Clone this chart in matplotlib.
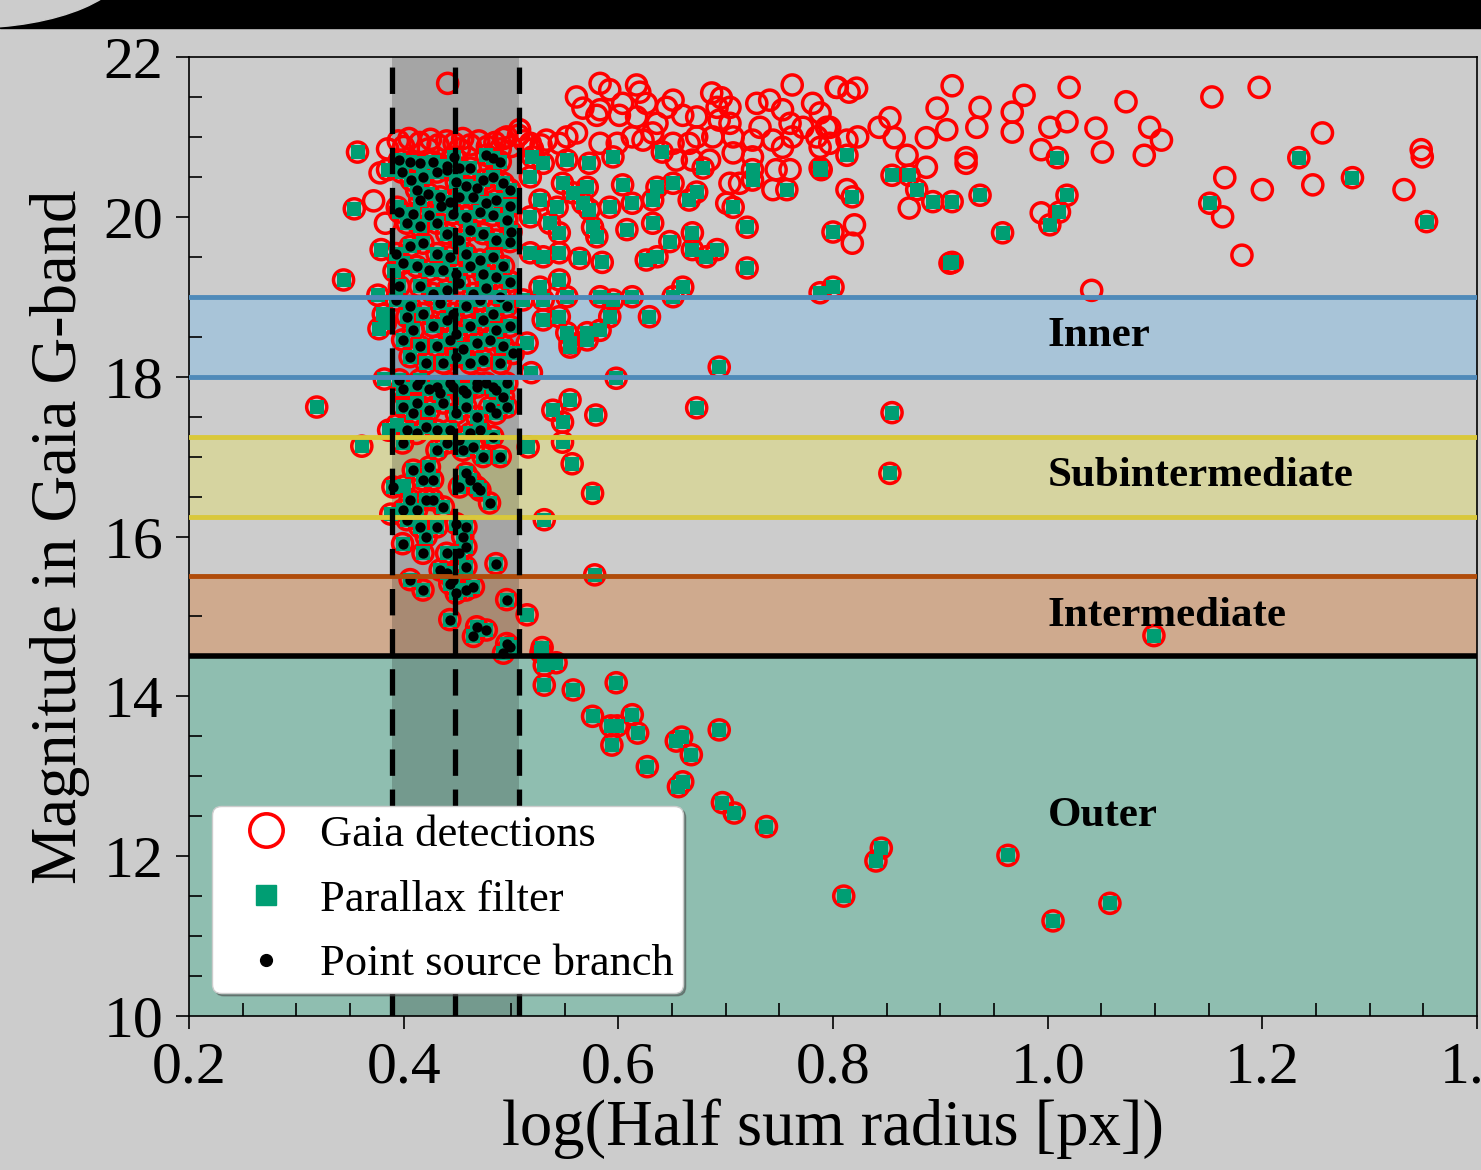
import matplotlib
matplotlib.use("Agg")
import matplotlib.pyplot as plt
from matplotlib.patches import Rectangle, Ellipse
from matplotlib.lines import Line2D
from matplotlib.ticker import MultipleLocator
import numpy as np

plt.rcParams['font.family'] = ['Liberation Serif', 'DejaVu Serif']

# Gaia detections with no parallax cut passed (x = log half sum radius, y = G mag)
gaia_only_x = [0.583, 0.592, 0.617, 0.620, 0.561, 0.567, 0.583, 0.580, 0.604, 0.601,
               0.626, 0.617, 0.645, 0.651, 0.636, 0.660, 0.673, 0.687, 0.696, 0.704,
               0.692, 0.694, 0.704, 0.729, 0.741, 0.753, 0.762, 0.781, 0.788, 0.803,
               0.797, 0.772, 0.760, 0.732, 0.725, 0.744, 0.762, 0.753, 0.785, 0.788,
               0.707, 0.688, 0.673, 0.666, 0.651, 0.654, 0.632, 0.623, 0.613, 0.599,
               0.583, 0.561, 0.552, 0.545, 0.533, 0.518, 0.508, 0.496, 0.669, 0.685,
               0.707, 0.725, 0.747, 0.760, 0.744, 0.713, 0.704, 0.701,
               0.804, 0.822, 0.815, 0.911, 0.978, 1.020, 1.073, 0.937, 0.897, 0.967,
               0.967, 0.934, 0.906, 0.887, 0.857, 0.853, 0.843, 0.823, 0.794, 0.797,
               0.813, 0.869, 0.887, 0.924, 0.924, 0.994, 1.002, 1.018, 1.045, 1.051,
               1.090, 1.095, 0.871, 0.994, 0.813, 0.820, 0.818, 1.041,
               1.153, 1.197, 1.106, 1.256, 1.165, 1.200, 1.247, 1.332, 1.348, 1.349,
               1.163, 1.181,
               0.385, 0.395, 0.405, 0.415, 0.425, 0.432, 0.440, 0.447, 0.455, 0.462,
               0.470, 0.478, 0.485, 0.493, 0.500, 0.507, 0.441, 0.400, 0.423, 0.452,
               0.490, 0.512, 0.520, 0.528, 0.383, 0.378, 0.372]
gaia_only_y = [21.67, 21.59, 21.65, 21.56, 21.50, 21.36, 21.34, 21.27, 21.42, 21.27,
               21.42, 21.25, 21.37, 21.46, 21.17, 21.27, 21.25, 21.55, 21.49, 21.37,
               21.37, 21.21, 21.17, 21.42, 21.46, 21.34, 21.65, 21.42, 21.30, 21.62,
               21.12, 21.12, 21.17, 21.12, 20.96, 20.96, 21.00, 20.87, 21.00, 20.87,
               21.00, 21.00, 21.00, 20.92, 20.92, 20.71, 21.05, 20.96, 21.00, 20.92,
               20.92, 21.05, 21.00, 20.92, 20.96, 20.92, 21.09, 21.00, 20.71, 20.71,
               20.80, 20.75, 20.59, 20.59, 20.34, 20.42, 20.42, 20.17,
               21.62, 21.61, 21.56, 21.64, 21.52, 21.62, 21.44, 21.37, 21.36, 21.31,
               21.06, 21.12, 21.09, 20.99, 20.99, 21.24, 21.12, 21.00, 21.12, 20.92,
               20.96, 20.77, 20.62, 20.74, 20.67, 20.84, 21.12, 21.19, 21.11, 20.81,
               20.77, 21.12, 20.11, 20.05, 20.34, 19.90, 19.67, 19.08,
               21.50, 21.62, 20.96, 21.05, 20.49, 20.34, 20.40, 20.34, 20.84, 20.75,
               20.00, 19.52,
               20.85, 20.95, 20.98, 20.93, 20.97, 20.90, 20.95, 20.92, 20.98, 20.90,
               20.95, 20.88, 20.93, 20.98, 20.88, 21.02, 21.67, 20.88, 20.85, 20.85,
               20.85, 20.95, 20.85, 20.90, 19.92, 20.55, 20.20]

# Detections that pass the parallax filter (outside the point source branch)
parallax_x = [0.595, 0.641, 0.679, 0.725, 0.725, 0.788, 0.757, 0.707, 0.720, 0.800,
              0.673, 0.666, 0.651, 0.636, 0.632, 0.632, 0.648, 0.669, 0.669, 0.692,
              0.682, 0.720, 0.626, 0.636, 0.608, 0.604, 0.580, 0.576, 0.585, 0.613,
              0.592, 0.573, 0.558, 0.548, 0.530, 0.520, 0.552, 0.573, 0.571, 0.567,
              0.543, 0.527, 0.518, 0.518, 0.536, 0.545, 0.518, 0.530, 0.545, 0.564,
              0.545, 0.527, 0.552, 0.530, 0.511, 0.530, 0.545, 0.552, 0.571, 0.583,
              0.555, 0.583, 0.595, 0.613, 0.592, 0.629, 0.651, 0.660, 0.515, 0.788,
              0.800,
              0.813, 0.789, 0.855, 0.871, 0.878, 0.893, 0.911, 0.937, 0.818, 0.958,
              1.009, 1.018, 1.011, 1.002, 0.909, 0.911,
              1.234, 1.284, 1.151, 1.353,
              0.694, 0.673, 0.598, 0.855, 0.853, 0.555, 0.539, 0.548, 0.579, 0.516,
              0.548, 0.557, 0.576, 0.531, 0.578, 0.515, 0.529, 0.519, 0.555, 0.571,
              0.528, 0.531, 0.531, 0.542, 0.558, 0.598, 0.576, 0.593, 0.599, 0.613,
              0.618, 0.594, 0.627, 0.654, 0.659, 0.668, 0.656, 0.660, 0.694, 0.697,
              0.708, 0.738, 0.810, 0.840, 0.845, 0.963, 1.005, 1.058, 1.099,
              0.357, 0.354, 0.379, 0.391, 0.344, 0.383, 0.382, 0.319, 0.361, 0.385,
              0.394, 0.381, 0.377, 0.394, 0.400, 0.376, 0.386, 0.388]
parallax_y = [20.75, 20.81, 20.61, 20.59, 20.46, 20.61, 20.34, 20.12, 19.87, 19.81,
              20.31, 20.21, 20.42, 20.37, 20.21, 19.92, 19.69, 19.80, 19.59, 19.59,
              19.50, 19.36, 19.46, 19.50, 19.84, 20.40, 19.75, 19.87, 19.43, 20.17,
              20.12, 20.09, 20.30, 20.42, 20.67, 20.75, 20.71, 20.67, 20.37, 20.17,
              20.12, 20.21, 20.50, 20.00, 19.92, 19.80, 19.55, 19.50, 19.55, 19.48,
              19.21, 19.12, 19.00, 18.96, 18.96, 18.71, 18.75, 18.55, 18.55, 18.58,
              18.42, 19.00, 18.96, 19.00, 18.75, 18.75, 19.00, 19.12, 18.42, 19.05,
              19.12,
              20.77, 20.59, 20.52, 20.52, 20.34, 20.19, 20.19, 20.27, 20.25, 19.80,
              20.74, 20.27, 20.06, 19.90, 19.42, 19.43,
              20.74, 20.49, 20.17, 19.94,
              18.12, 17.61, 17.98, 17.55, 16.79, 17.71, 17.58, 17.43, 17.52, 17.12,
              17.18, 16.91, 16.54, 16.21, 15.52, 15.02, 14.61, 18.05, 18.37, 18.46,
              14.55, 14.39, 14.14, 14.42, 14.08, 14.17, 13.75, 13.63, 13.63, 13.77,
              13.54, 13.39, 13.12, 13.44, 13.49, 13.27, 12.87, 12.93, 13.58, 12.67,
              12.54, 12.37, 11.50, 11.94, 12.10, 12.01, 11.19, 11.41, 14.76,
              20.81, 20.10, 19.59, 19.32, 19.21, 18.67, 17.97, 17.62, 17.13, 20.59,
              20.12, 18.78, 18.60, 17.40, 16.63, 19.02, 17.33, 16.28]

# Point source branch members (also pass the parallax filter)
branch_x = [0.396, 0.406, 0.415, 0.427, 0.440, 0.452, 0.462, 0.477, 0.483, 0.490, 0.447,
            0.398, 0.407, 0.418, 0.431, 0.440, 0.449, 0.458, 0.468, 0.474, 0.483, 0.493, 0.499,
            0.412, 0.423, 0.415, 0.434, 0.443, 0.452, 0.465, 0.477, 0.486, 0.499,
            0.396, 0.409, 0.424, 0.435, 0.446, 0.458, 0.471, 0.483, 0.496, 0.500,
            0.403, 0.415, 0.431, 0.440, 0.452, 0.462, 0.474, 0.486, 0.499,
            0.393, 0.406, 0.418, 0.431, 0.443, 0.458, 0.471, 0.483, 0.493,
            0.399, 0.412, 0.424, 0.437, 0.449, 0.462, 0.474, 0.486, 0.499,
            0.396, 0.415, 0.427, 0.440, 0.452, 0.465, 0.477, 0.490,
            0.393, 0.406, 0.418, 0.434, 0.446, 0.458, 0.471, 0.483, 0.496,
            0.403, 0.409, 0.427, 0.440, 0.449, 0.462, 0.474, 0.486, 0.499,
            0.399, 0.415, 0.431, 0.443, 0.455, 0.468, 0.480, 0.493, 0.502,
            0.406, 0.421, 0.437, 0.449, 0.462, 0.474, 0.490,
            0.396, 0.415, 0.431, 0.443, 0.455, 0.468, 0.483, 0.496,
            0.399, 0.412, 0.424, 0.434, 0.446, 0.458, 0.468, 0.477, 0.486, 0.493,
            0.399, 0.412, 0.409, 0.424, 0.437, 0.449, 0.458, 0.468, 0.480, 0.486, 0.496,
            0.403, 0.412, 0.421, 0.431, 0.443, 0.452, 0.462, 0.471, 0.483,
            0.399, 0.431, 0.440, 0.455, 0.465, 0.474, 0.490,
            0.409, 0.424, 0.427, 0.418, 0.458, 0.452, 0.468, 0.462, 0.471,
            0.390, 0.406, 0.412, 0.421, 0.427, 0.437, 0.480,
            0.399, 0.403, 0.415, 0.421, 0.431, 0.449, 0.458, 0.455, 0.458,
            0.399, 0.418, 0.440, 0.452, 0.458,
            0.434, 0.440, 0.446, 0.449, 0.458, 0.465, 0.418, 0.406, 0.443,
            0.443, 0.468, 0.477, 0.465,
            0.496, 0.496, 0.499, 0.493, 0.486]
branch_y = [20.71, 20.69, 20.67, 20.69, 20.63, 20.61, 20.61, 20.77, 20.73, 20.69, 20.75,
            20.56, 20.46, 20.50, 20.56, 20.59, 20.44, 20.38, 20.36, 20.46, 20.50, 20.42, 20.34,
            20.34, 20.29, 20.21, 20.25, 20.19, 20.25, 20.25, 20.17, 20.21, 20.13,
            20.06, 20.04, 20.02, 20.13, 20.04, 20.00, 20.06, 20.02, 19.96, 19.81,
            19.92, 19.88, 19.92, 19.79, 19.71, 19.84, 19.79, 19.71, 19.69,
            19.54, 19.63, 19.67, 19.54, 19.50, 19.54, 19.46, 19.50, 19.38,
            19.42, 19.38, 19.33, 19.33, 19.29, 19.38, 19.29, 19.25, 19.19,
            19.13, 19.13, 19.04, 19.08, 19.17, 19.04, 19.11, 19.00,
            18.96, 18.88, 18.79, 18.92, 18.79, 18.88, 18.96, 18.79, 18.88,
            18.75, 18.58, 18.63, 18.71, 18.54, 18.63, 18.71, 18.58, 18.63,
            18.46, 18.38, 18.38, 18.46, 18.35, 18.42, 18.46, 18.38, 18.29,
            18.25, 18.17, 18.17, 18.25, 18.17, 18.21, 18.17,
            17.96, 17.96, 17.87, 17.92, 17.83, 17.92, 17.87, 17.92,
            17.85, 17.90, 17.85, 17.79, 17.87, 17.79, 17.87, 17.92, 17.83, 17.75,
            17.62, 17.67, 17.54, 17.58, 17.67, 17.54, 17.62, 17.50, 17.62, 17.54, 17.62,
            17.33, 17.29, 17.37, 17.33, 17.33, 17.21, 17.29, 17.33, 17.25,
            17.17, 17.08, 17.17, 17.08, 17.12, 17.00, 17.00,
            16.83, 16.87, 16.71, 16.71, 16.79, 16.62, 16.62, 16.71, 16.58,
            16.62, 16.46, 16.33, 16.46, 16.46, 16.37, 16.42,
            16.33, 16.21, 16.12, 16.00, 16.12, 16.16, 16.12, 16.00, 15.87,
            15.91, 15.79, 15.79, 15.79, 15.62,
            15.58, 15.54, 15.46, 15.29, 15.33, 15.37, 15.33, 15.46, 15.41,
            14.96, 14.87, 14.83, 14.75,
            15.21, 14.66, 14.62, 14.54, 15.66]

gaia_x = gaia_only_x + parallax_x + branch_x
gaia_y = gaia_only_y + parallax_y + branch_y
filt_x = parallax_x + branch_x
filt_y = parallax_y + branch_y

# magnitude regions: (name, low, high, fill)
regions = [('Inner', 18.0, 19.0, '#a8c4d8'),
           ('Subintermediate', 16.25, 17.25, '#d6d4a0'),
           ('Intermediate', 14.5, 15.5, '#cfaa8e'),
           ('Outer', 10.0, 14.5, '#8fbeb0')]
region_label_y = [18.51, 16.76, 15.01, 12.5]
branch_edges = [0.389, 0.448, 0.507]

bg = '#cccccc'
fig = plt.figure(figsize=(14.81, 11.70), dpi=100, facecolor=bg)
ax = fig.add_axes([189/1481, 154/1170, 1288/1481, 959/1170])
ax.set_facecolor(bg)

# black header strip with a rounded notch at the left
fig.patches.append(Rectangle((0, 1 - 28/1170), 1, 28/1170, transform=fig.transFigure,
                             color='k', zorder=0))
fig.patches.append(Ellipse((-30/1481, 1 + 40/1170), 320/1481, 136/1170,
                           transform=fig.transFigure, color=bg, zorder=1))

for (name, lo, hi, fill), ly in zip(regions, region_label_y):
    ax.axhspan(lo, hi, color=fill, lw=0, zorder=0.5)
    ax.text(1.0, ly, name, fontsize=31, fontweight='bold', va='center', zorder=8)
ax.axvspan(branch_edges[0], branch_edges[-1], color='k', alpha=0.19, lw=0, zorder=0.6)

ax.scatter(gaia_x, gaia_y, s=210, facecolors='none', edgecolors='#ff0000',
           linewidths=2.5, zorder=2)
ax.scatter(filt_x, filt_y, s=105, marker='s', color='#009e73', lw=0, zorder=3)
ax.scatter(branch_x, branch_y, s=55, color='k', lw=0, zorder=4)

for yv, c in [(19.0, '#4f8ab9'), (18.0, '#4f8ab9'), (17.25, '#d9c83a'),
              (16.25, '#d9c83a'), (15.5, '#b04c0a')]:
    ax.axhline(yv, color=c, lw=3.5, zorder=5)
ax.axhline(14.5, color='k', lw=4, zorder=5)
for xv in branch_edges:
    ax.axvline(xv, color='k', lw=3.8, linestyle=(0, (5, 2.6)), zorder=6)

ax.set_xlim(0.2, 1.4)
ax.set_ylim(10, 22)
ax.set_xticks([0.2, 0.4, 0.6, 0.8, 1.0, 1.2, 1.4])
ax.set_xticklabels(['0.2', '0.4', '0.6', '0.8', '1.0', '1.2', '1.4'])
ax.set_yticks([10, 12, 14, 16, 18, 20, 22])
ax.xaxis.set_minor_locator(MultipleLocator(0.05))
ax.yaxis.set_minor_locator(MultipleLocator(0.5))
ax.tick_params(which='major', direction='out', length=9.5, width=1.2,
               labelsize=43, pad=9)
ax.tick_params(which='minor', direction='in', length=9.5, width=1.2)
for sp in ax.spines.values():
    sp.set_linewidth(1.2)

ax.set_xlabel('log(Half sum radius [px])', fontsize=46.5, labelpad=2)
ax.set_ylabel('Magnitude in Gaia G-band', fontsize=46.5, labelpad=10)

handles = [Line2D([], [], marker='o', ls='none', mfc='none', mec='#ff0000', mew=2.6, ms=24),
           Line2D([], [], marker='s', ls='none', color='#009e73', ms=14),
           Line2D([], [], marker='o', ls='none', color='k', ms=8.5)]
leg = ax.legend(handles, ['Gaia detections', 'Parallax filter', 'Point source branch'],
                loc='lower left', bbox_to_anchor=(0.018, 0.024), borderaxespad=0,
                fontsize=32, fancybox=True, shadow=True, framealpha=1,
                edgecolor='0.8', borderpad=0.2, handlelength=2.0,
                handletextpad=0.23, labelspacing=0.55)
leg.set_zorder(10)

fig.savefig('out.png', dpi=100, facecolor=bg)
